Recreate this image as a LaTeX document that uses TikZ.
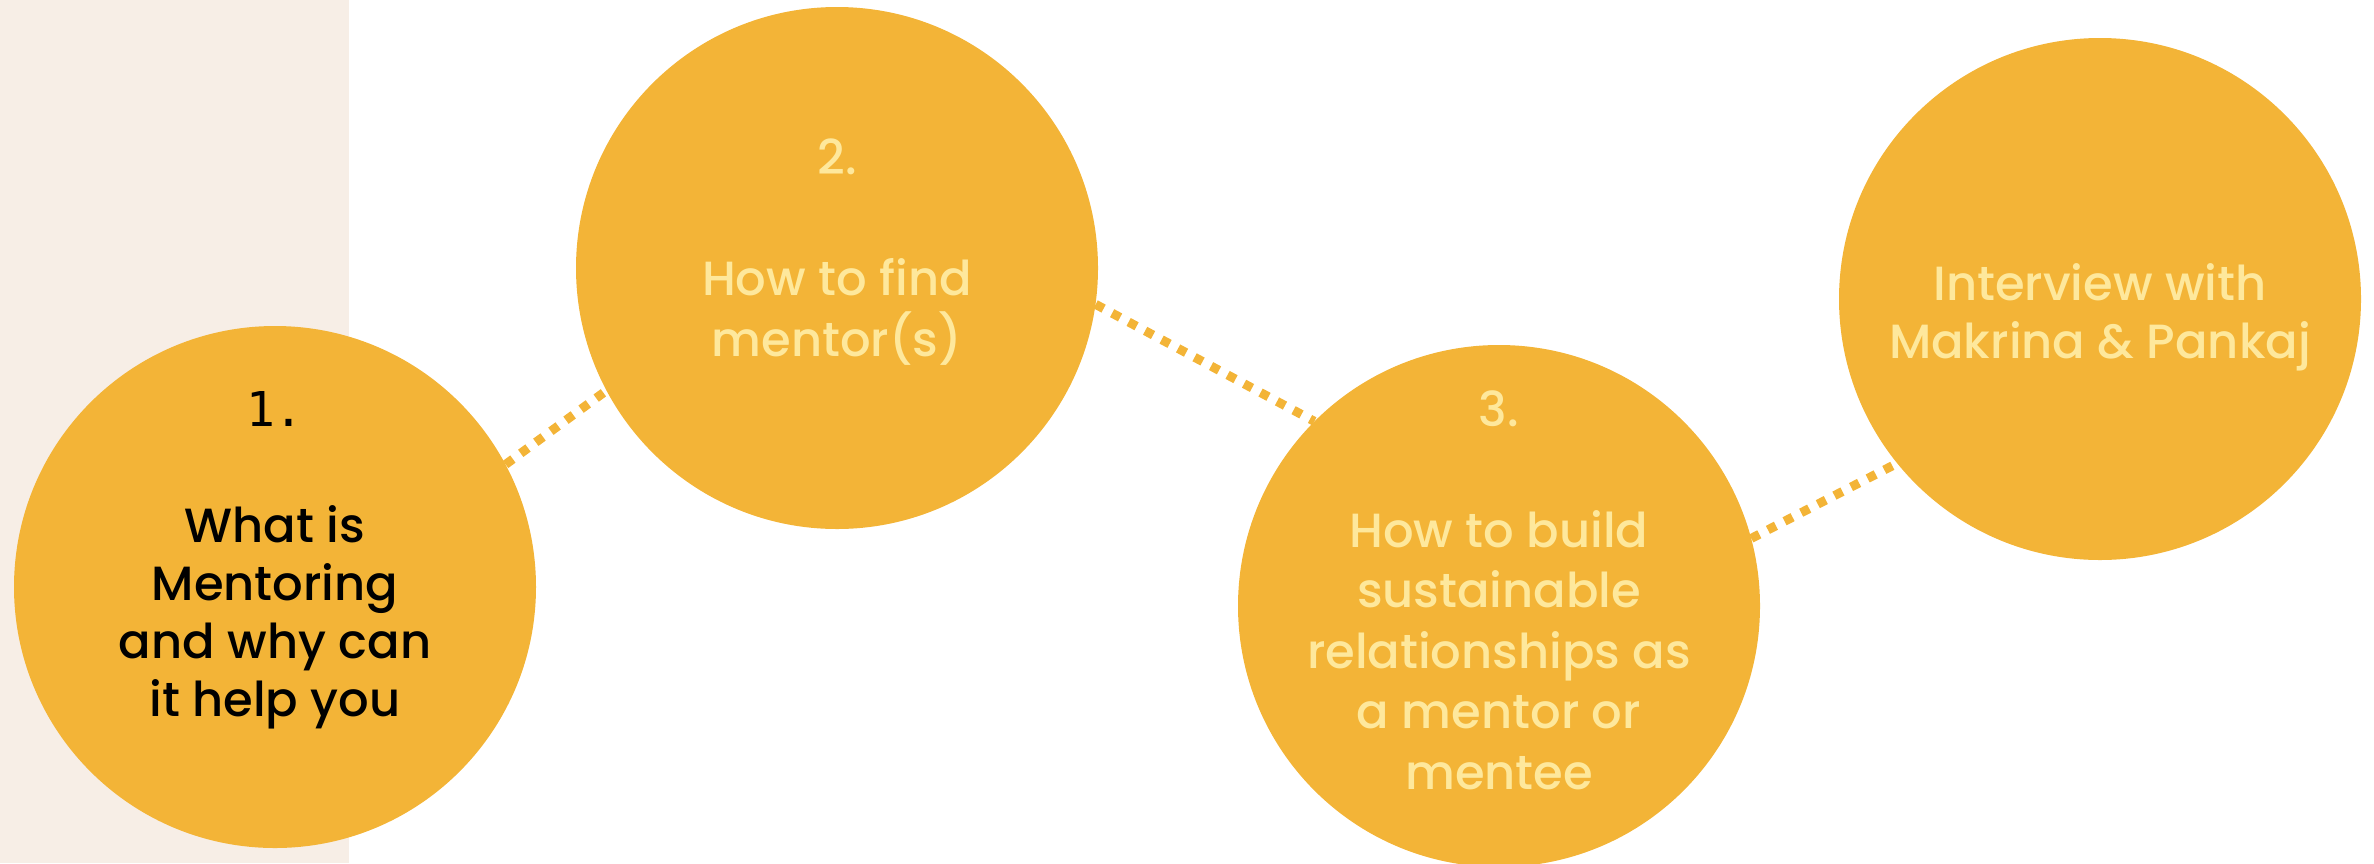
\documentclass[tikz,border=0pt]{standalone}
\usepackage{fontspec}
\setmainfont{Poppins}[UprightFont={* Medium}]
\newfontfamily\numfont{DejaVu Sans Mono}
\usepackage{tikz}
\usetikzlibrary{positioning}

\definecolor{sand}{RGB}{247,238,230}
\definecolor{mustard}{RGB}{243,180,55}
\definecolor{cream}{RGB}{254,232,156}

\begin{document}
\begin{tikzpicture}[x=1pt, y=-1pt,
		topic/.style={
			circle,
			fill=mustard,
			draw=none,
			inner sep=0pt,
			minimum size=522pt,
		},
		lbl/.style={
			align=center,
			text=cream,
			font=\fontsize{48}{58}\selectfont,
		},
		dots/.style={
			draw=mustard,
			line width=9pt,
			dash pattern=on 9pt off 9.7pt,
		}]
		\useasboundingbox (0,0) rectangle (2374,863);
		\fill[sand] (0,0) rectangle (349,863);
		
		\node[topic] (c1) at (275,587) {};
		\node[topic] (c2) at (837,268) {};
		\node[topic] (c3) at (1499,606) {};
		\node[topic] (c4) at (2100,299) {};
		
		\draw[dots] (c1.28) -- (c2.208);
		\draw[dots] (c2.-8) -- (c3.135);
		\draw[dots] (c3.15) -- (c4.219);
		
		\node[lbl, text=black] (t1) at ([yshift=27pt]c1.center) {{\numfont 1.}\\[58pt]What is\\Mentoring\\and why can\\it help you};
		\node[lbl, font=\fontsize{48}{60.5}\selectfont] (t2) at ([yshift=16pt]c2.center) {2.\\[60.5pt]How to find\\mentor(s)};
		\node[lbl, font=\fontsize{48}{60.5}\selectfont] (t3) at ([yshift=16pt]c3.center) {3.\\[60.5pt]How to build\\sustainable\\relationships as\\a mentor or\\mentee};
		\node[lbl] (t4) at ([yshift=-18pt]c4.center) {Interview with\\Makrina \& Pankaj};
	\end{tikzpicture}
\end{document}
